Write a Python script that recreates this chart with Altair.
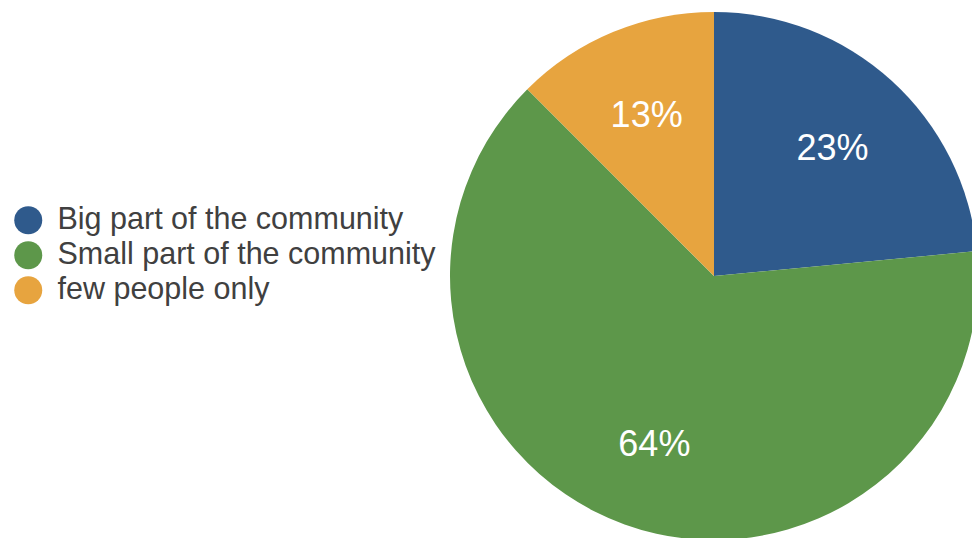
import altair as alt
import pandas as pd

categories = ["Big part of the community", "Small part of the community", "few people only"]
values = [23.5, 64.0, 12.5]
labels = ["23%", "64%", "13%"]
order = [1, 2, 3]
colors = ["#2F5A8C", "#5D974A", "#E7A43F"]

df = pd.DataFrame({"category": categories, "value": values, "label": labels, "order": order})

base = alt.Chart(df).encode(
    theta=alt.Theta("value:Q", stack=True),
    order=alt.Order("order:Q"),
    x=alt.value(264),
    y=alt.value(264),
)

arcs = base.mark_arc(outerRadius=264, stroke=None).encode(
    color=alt.Color(
        "category:N",
        sort=categories,
        scale=alt.Scale(domain=categories, range=colors),
        legend=alt.Legend(
            title=None,
            orient="none",
            legendX=-437,
            legendY=193,
            symbolType="circle",
            symbolSize=784,
            symbolStrokeWidth=0,
            symbolOpacity=1,
            labelFontSize=30.5,
            labelFont="Liberation Sans",
            labelColor="#404040",
            labelOffset=14,
            rowPadding=4,
            padding=0,
            labelLimit=600,
        ),
    )
)

text = base.mark_text(
    radius=176, fontSize=36, font="Liberation Sans", color="white",
    align="center", baseline="middle", dy=3,
).encode(text="label:N")

chart = (
    alt.layer(arcs, text)
    .properties(
        width=522,
        height=526,
        padding={"left": 450, "top": 12, "right": 0, "bottom": 0},
        autosize=alt.AutoSizeParams(type="none"),
        background="white",
    )
    .configure_view(stroke=None)
)

chart.save("out.html", embed_options={"renderer": "svg", "actions": False})
